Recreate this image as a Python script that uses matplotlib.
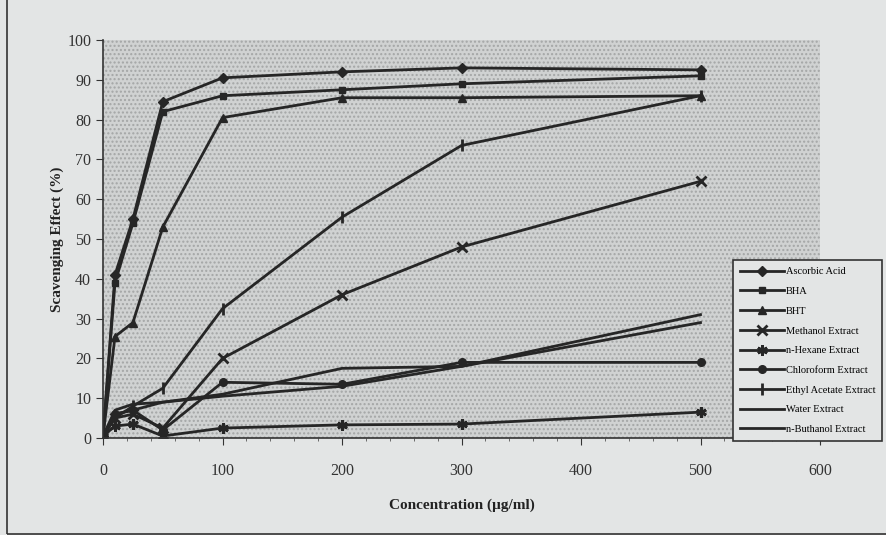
import matplotlib
matplotlib.use("Agg")
import matplotlib.pyplot as plt
from matplotlib.patches import Rectangle

# concentrations (ug/ml)
conc = [0, 10, 25, 50, 100, 200, 300, 500]

ascorbic = [0.5, 41, 55, 84.5, 90.5, 92, 93, 92.5]
bha = [0.5, 39, 54, 82, 86, 87.5, 89, 91]
bht = [0.5, 25.5, 29, 53, 80.5, 85.5, 85.5, 86]
methanol = [0.5, 5, 6, 2.5, 20, 36, 48, 64.5]
hexane = [0.5, 3, 3.5, 0.5, 2.5, 3.3, 3.5, 6.5]
chloroform = [0.5, 6, 7, 2, 14, 13.5, 19, 19]
ethyl_acetate = [0.5, 5, 8, 12.5, 32.5, 55.5, 73.5, 86]
water = [0.5, 7, 8.5, 9, 11, 17.5, 18, 29]
butanol = [0.5, 6, 7, 9, 10.5, 13, 18, 31]

labels = ["Ascorbic Acid", "BHA", "BHT", "Methanol Extract", "n-Hexane Extract",
          "Chloroform Extract", "Ethyl Acetate Extract", "Water Extract",
          "n-Buthanol Extract"]

plt.rcParams['font.family'] = ['Liberation Serif', 'DejaVu Serif']

fig = plt.figure(figsize=(8.86, 5.35), dpi=100)
fig.set_facecolor('#e3e5e5')
ax = fig.add_axes([0.1163, 0.1813, 0.8092, 0.7439])
ax.set_facecolor('#d0d2d2')

# dotted halftone look of the plot area
ax.add_patch(Rectangle((0, 0), 1, 1, transform=ax.transAxes, facecolor='none',
                       edgecolor='#a4a6a6', hatch='....', linewidth=0, zorder=0))

ink = '#262626'
series = [ascorbic, bha, bht, methanol, hexane, chloroform, ethyl_acetate, water, butanol]
markers = ['D', 's', '^', 'x', (6, 2, 0), 'o', '|', None, None]
sizes = [5.5, 5, 5.5, 6.5, 7.5, 5.5, 8, 0, 0]

for vals, m, ms, lab in zip(series, markers, sizes, labels):
    ax.plot(conc, vals, color=ink, linewidth=2.0, marker=m, markersize=ms,
            markeredgewidth=2 if m in ('x', '|', (6, 2, 0)) else 1,
            markerfacecolor=ink, markeredgecolor=ink, label=lab)

ax.set_xlim(0, 600)
ax.set_ylim(0, 100)
ax.set_xticks(range(0, 601, 100))
ax.set_yticks(range(0, 101, 10))
ax.tick_params(labelsize=11.5, colors='#333333', length=5, direction='out')
ax.tick_params(axis='x', pad=13)
ax.set_xticks(range(0, 601, 20), minor=True)
ax.tick_params(which='minor', length=2, color='#555555')
for s in ['top', 'right']:
    ax.spines[s].set_visible(False)
for s in ['left', 'bottom']:
    ax.spines[s].set_color('#333333')
    ax.spines[s].set_linewidth(1.2)

ax.set_xlabel("Concentration (\u00b5g/ml)", fontsize=11, fontweight='bold', color='#222222', labelpad=14)
ax.set_ylabel("Scavenging Effect (%)", fontsize=11, fontweight='bold', color='#222222', labelpad=2)

leg = ax.legend(loc='lower right', bbox_to_anchor=(0.9955, 0.176), bbox_transform=fig.transFigure,
                borderaxespad=0, fontsize=7.5, frameon=True, fancybox=False, edgecolor='#333333',
                facecolor='#e3e5e5', framealpha=1, labelspacing=1.0, handlelength=4.2,
                borderpad=0.65, handletextpad=0.2)
leg.get_frame().set_linewidth(1.2)

# outer border of the figure
fig.add_artist(Rectangle((0.008, 0.002), 1.2, 1.2, transform=fig.transFigure,
                         facecolor='none', edgecolor='#333333', linewidth=1.2))

fig.savefig("out.png", dpi=100, facecolor=fig.get_facecolor())
